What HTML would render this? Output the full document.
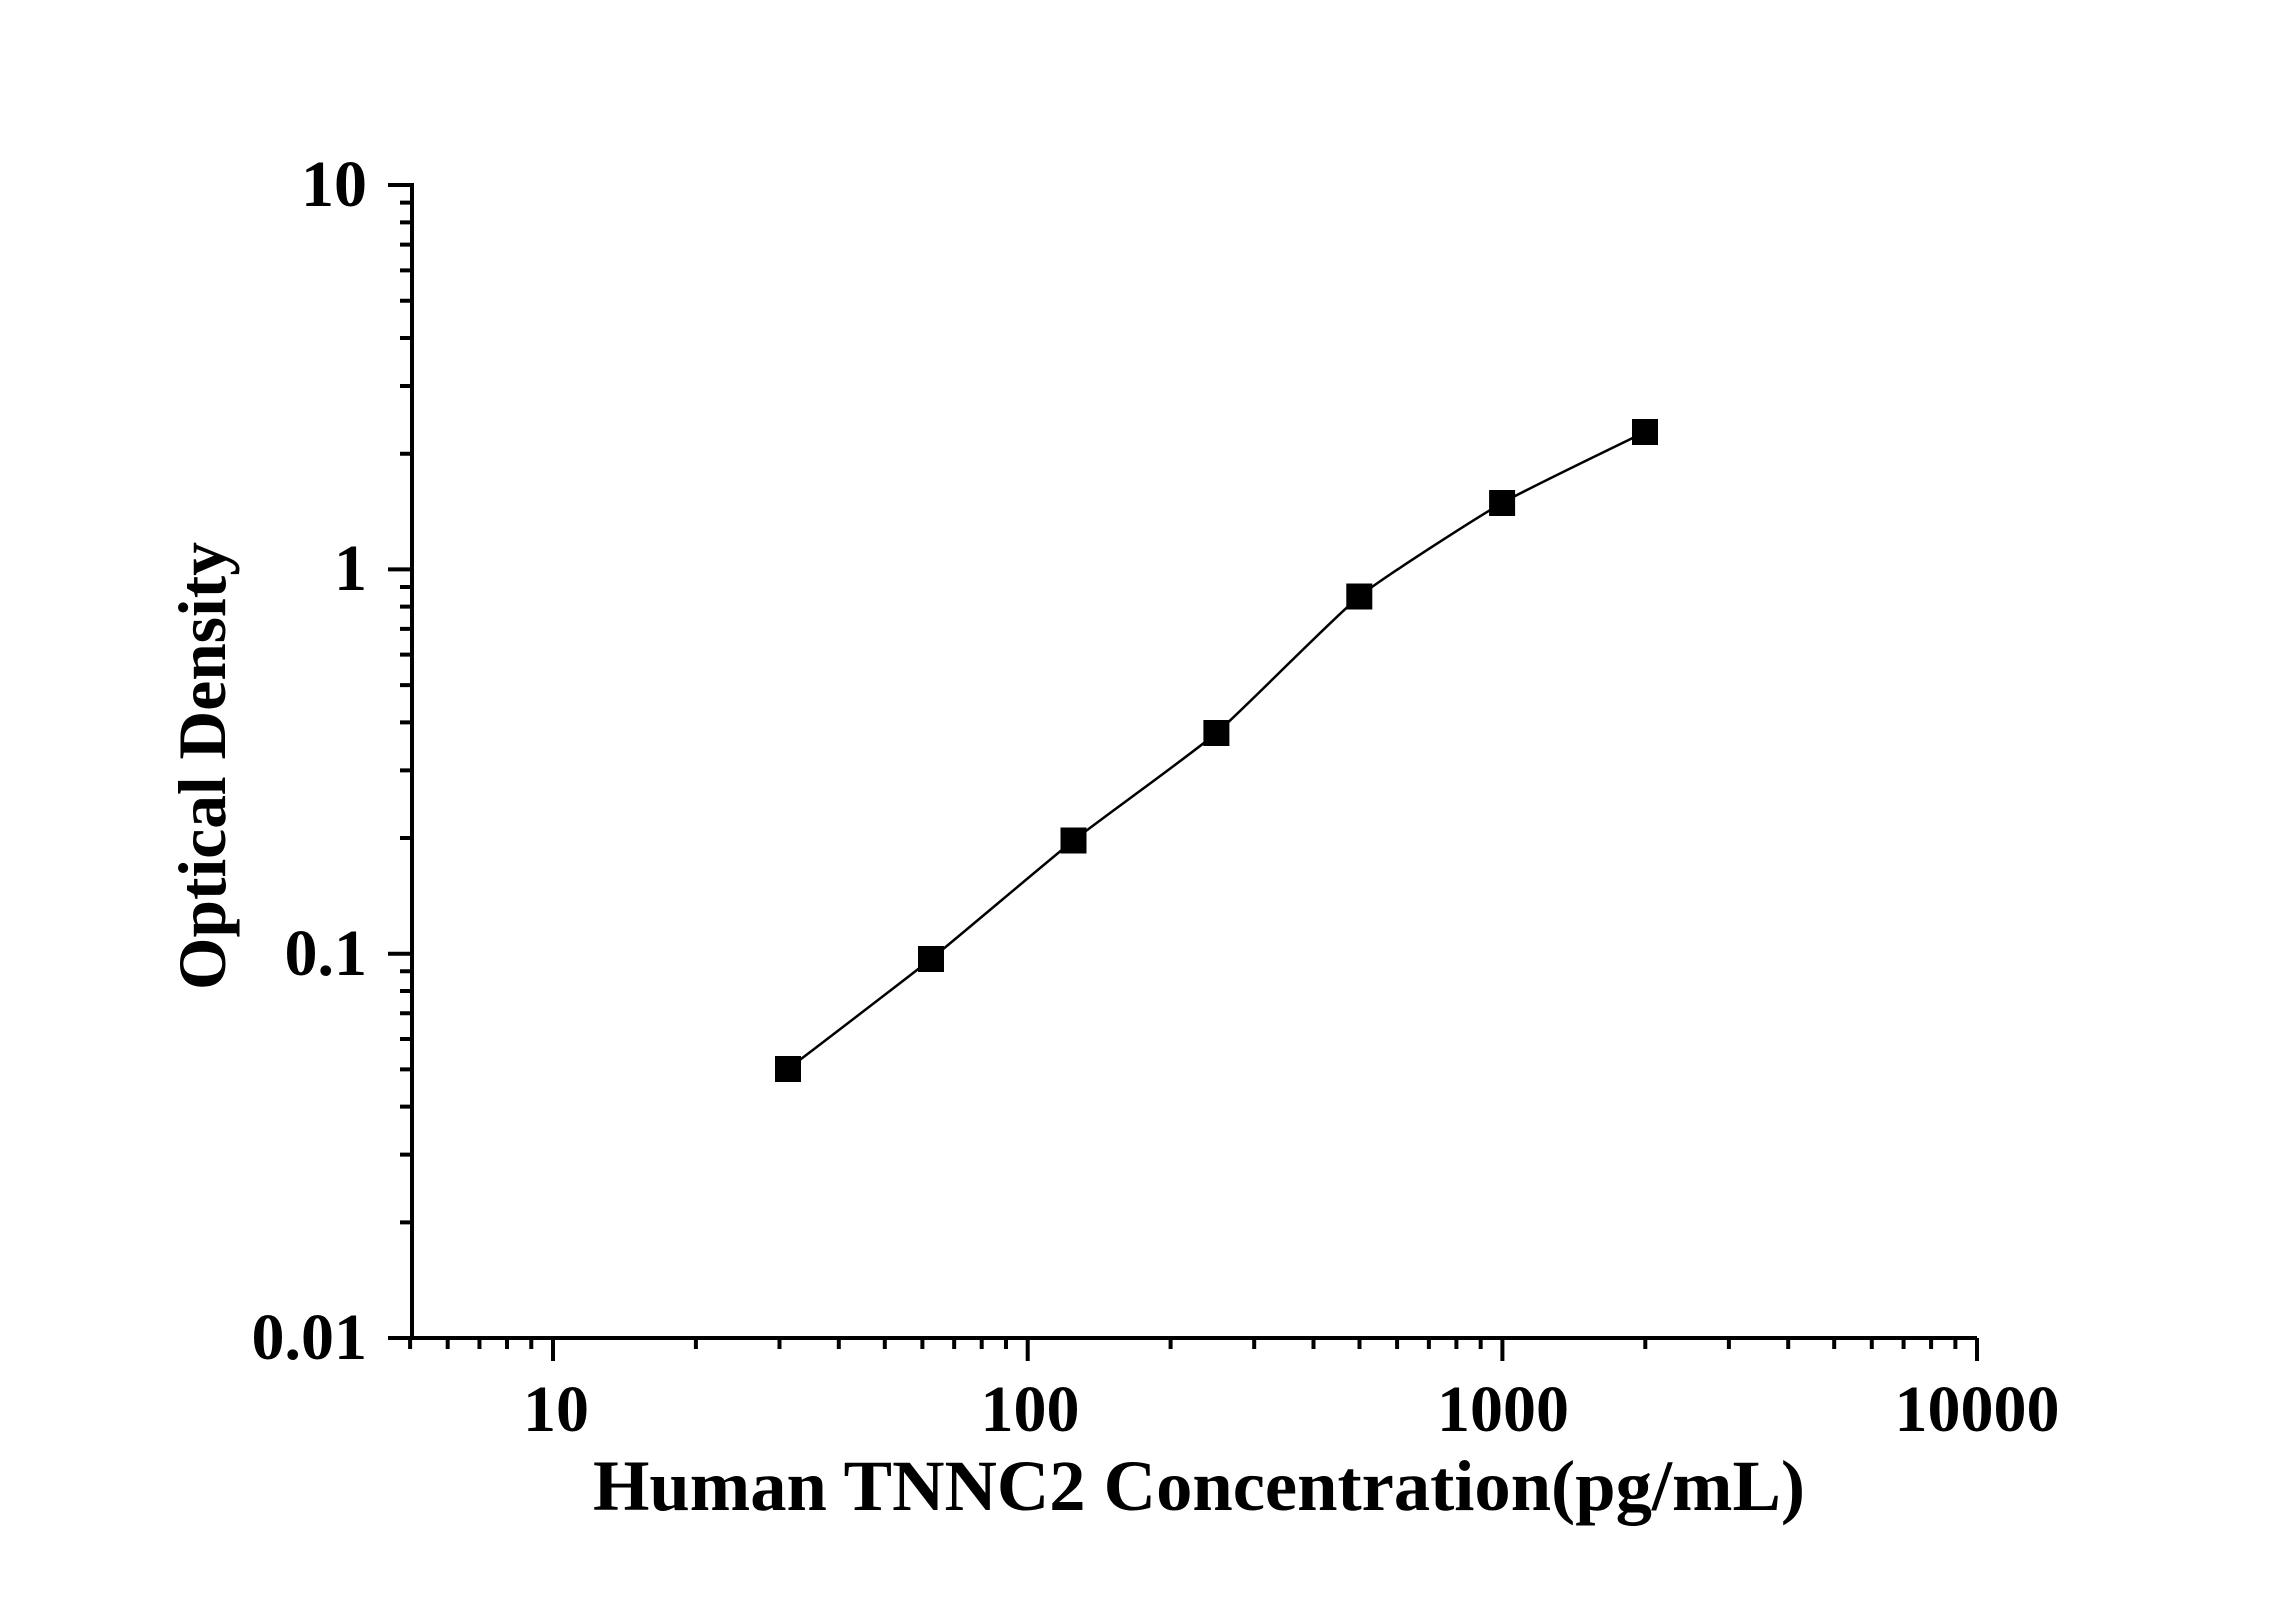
<!DOCTYPE html>
<html><head><meta charset="utf-8"><style>html,body{margin:0;padding:0;background:#fff;}svg{display:block}</style></head>
<body>
<svg id="s" width="2296" height="1604" viewBox="0 0 2296 1604" xmlns="http://www.w3.org/2000/svg" font-family="'Liberation Serif', serif" font-weight="bold">
<rect width="2296" height="1604" fill="#fff"/>
<g id="ax" stroke="#000" stroke-width="4" fill="none"></g>
<g font-size="66" fill="#000">
<text x="367" y="206" text-anchor="end">10</text>
<text x="367" y="590" text-anchor="end">1</text>
<text x="367" y="975" text-anchor="end">0.1</text>
<text x="367" y="1359" text-anchor="end">0.01</text>
<text x="556" y="1431" text-anchor="middle">10</text>
<text x="1030" y="1431" text-anchor="middle">100</text>
<text x="1503" y="1431" text-anchor="middle">1000</text>
<text x="1977" y="1431" text-anchor="middle">10000</text>
</g>
<text x="593" y="1510" font-size="72" textLength="1212" lengthAdjust="spacingAndGlyphs">Human TNNC2 Concentration(pg/mL)</text>
<text transform="translate(225,990) rotate(-90)" x="0" y="0" font-size="68" textLength="448" lengthAdjust="spacingAndGlyphs">Optical Density</text>
<path id="crv" stroke="#000" stroke-width="2.5" fill="none"/>
<g fill="#000">
<rect x="775" y="1056" width="26" height="26"/>
<rect x="918" y="946" width="26" height="26"/>
<rect x="1060.5" y="827.5" width="26" height="26"/>
<rect x="1203.4" y="720" width="26" height="26"/>
<rect x="1346.3" y="583.5" width="26" height="26"/>
<rect x="1489.1" y="490" width="26" height="26"/>
<rect x="1632" y="419" width="26" height="26"/>
</g>
</svg>
<script>
var g=document.getElementById('ax'),d='';
var X0=412,Y0=1338,YT=185,XR=1977;
d+='M'+X0+','+(YT-2)+'L'+X0+','+Y0+'L'+XR+','+Y0;
function xp(v){return 553+(Math.log10(v)-1)*474.7;}
function yp(v){return 1338-(Math.log10(v)+2)*384.3;}
for(var e=0;e<4;e++){for(var m=1;m<10;m++){var v=m*Math.pow(10,e);if(v<5||v>10000)continue;var x=xp(v);var L=(m==1)?23:11;d+='M'+x+','+Y0+'L'+x+','+(Y0+L);}}
d+='M'+XR+','+Y0+'L'+XR+','+(Y0+23);
for(var e=-2;e<1;e++){for(var m=1;m<10;m++){var v=m*Math.pow(10,e);var y=yp(v);var L=(m==1)?24:12;d+='M'+X0+','+y+'L'+(X0-L)+','+y;}}
d+='M'+X0+','+YT+'L'+(X0-24)+','+YT;
var p=document.createElementNS('http://www.w3.org/2000/svg','path');p.setAttribute('d',d);g.appendChild(p);
var P=[[788,1069],[931,959],[1073.5,840.5],[1216.4,733],[1359.3,596.5],[1502.1,503],[1645,432]];
var t=1/12,c='M'+P[0];
for(var i=0;i<P.length-1;i++){var a=P[Math.max(i-1,0)],b=P[i],n=P[i+1],m=P[Math.min(i+2,P.length-1)];
c+=' C'+(b[0]+(n[0]-a[0])*t)+','+(b[1]+(n[1]-a[1])*t)+' '+(n[0]-(m[0]-b[0])*t)+','+(n[1]-(m[1]-b[1])*t)+' '+n[0]+','+n[1];}
document.getElementById('crv').setAttribute('d',c);
</script>
</body></html>
